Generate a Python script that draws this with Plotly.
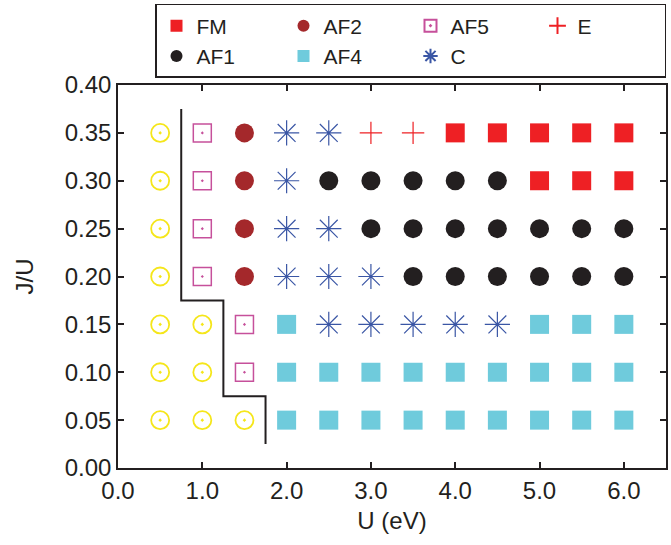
import plotly.graph_objects as go

# ---- data ----
fm_u = [4.0, 4.5, 5.0, 5.5, 6.0, 5.0, 5.5, 6.0]
fm_j = [0.35, 0.35, 0.35, 0.35, 0.35, 0.30, 0.30, 0.30]

af1_u = [2.5, 3.0, 3.5, 4.0, 4.5,
         3.0, 3.5, 4.0, 4.5, 5.0, 5.5, 6.0,
         3.5, 4.0, 4.5, 5.0, 5.5, 6.0]
af1_j = [0.30] * 5 + [0.25] * 7 + [0.20] * 6

af2_u = [1.5, 1.5, 1.5, 1.5]
af2_j = [0.20, 0.25, 0.30, 0.35]

af4_u = [2.0, 5.0, 5.5, 6.0,
         2.0, 2.5, 3.0, 3.5, 4.0, 4.5, 5.0, 5.5, 6.0,
         2.0, 2.5, 3.0, 3.5, 4.0, 4.5, 5.0, 5.5, 6.0]
af4_j = [0.15] * 4 + [0.10] * 9 + [0.05] * 9

af5_u = [1.0, 1.0, 1.0, 1.0, 1.5, 1.5]
af5_j = [0.20, 0.25, 0.30, 0.35, 0.10, 0.15]

c_u = [2.0, 2.5, 2.0, 2.0, 2.5, 2.0, 2.5, 3.0, 2.5, 3.0, 3.5, 4.0, 4.5]
c_j = [0.35, 0.35, 0.30, 0.25, 0.25, 0.20, 0.20, 0.20, 0.15, 0.15, 0.15, 0.15, 0.15]

e_u = [3.0, 3.5]
e_j = [0.35, 0.35]

nm_u = [0.5] * 7 + [1.0, 1.0, 1.0, 1.5]
nm_j = [0.05, 0.10, 0.15, 0.20, 0.25, 0.30, 0.35, 0.05, 0.10, 0.15, 0.05]

stair_u = [0.75, 0.75, 1.25, 1.25, 1.75, 1.75]
stair_j = [0.375, 0.175, 0.175, 0.075, 0.075, 0.025]

x_ticks = [0, 1, 2, 3, 4, 5, 6]
x_labels = ["0.0", "1.0", "2.0", "3.0", "4.0", "5.0", "6.0"]
y_ticks = [0.0, 0.05, 0.10, 0.15, 0.20, 0.25, 0.30, 0.35, 0.40]
y_labels = ["0.00", "0.05", "0.10", "0.15", "0.20", "0.25", "0.30", "0.35", "0.40"]

INK = "#231f20"
FONT = "Liberation Sans, Arial, sans-serif"
FS = 24

fig = go.Figure()

fig.add_trace(go.Scatter(x=stair_u, y=stair_j, mode="lines",
                         line=dict(color=INK, width=2), showlegend=False,
                         hoverinfo="skip"))

fig.add_trace(go.Scatter(x=nm_u, y=nm_j, mode="markers", showlegend=False,
                         marker=dict(symbol="circle-open-dot", size=18,
                                     color="#f5e61a", line=dict(width=1.8, color="#f5e61a"))))

fig.add_trace(go.Scatter(x=fm_u, y=fm_j, mode="markers", name="FM",
                         marker=dict(symbol="square", size=19, color="#ee2024")))
fig.add_trace(go.Scatter(x=af2_u, y=af2_j, mode="markers", name="AF2",
                         marker=dict(symbol="circle", size=19, color="#a4282b")))
fig.add_trace(go.Scatter(x=af5_u, y=af5_j, mode="markers", name="AF5",
                         marker=dict(symbol="square-open-dot", size=18, color="#c6509b",
                                     line=dict(width=1.5, color="#c6509b"))))
fig.add_trace(go.Scatter(x=e_u, y=e_j, mode="markers", name="E",
                         marker=dict(symbol="cross-thin-open", size=16, color="#ee2024",
                                     line=dict(width=1.2, color="#ee2024"))))
fig.add_trace(go.Scatter(x=af1_u, y=af1_j, mode="markers", name="AF1",
                         marker=dict(symbol="circle", size=19, color=INK)))
fig.add_trace(go.Scatter(x=af4_u, y=af4_j, mode="markers", name="AF4",
                         marker=dict(symbol="square", size=19, color="#6fcbdc")))
fig.add_trace(go.Scatter(x=c_u, y=c_j, mode="markers", name="C",
                         marker=dict(symbol="asterisk-open", size=21, color="#3a56a5",
                                     line=dict(width=1.2, color="#3a56a5"))))

axis_common = dict(showline=True, mirror="ticks", linecolor=INK, linewidth=1.5,
                   ticks="inside", ticklen=6, tickwidth=1.5, tickcolor=INK,
                   showgrid=False, zeroline=False,
                   tickfont=dict(family=FONT, size=FS, color=INK))

fig.update_layout(
    width=671, height=545,
    margin=dict(l=118, r=5, t=85, b=77, autoexpand=False),
    paper_bgcolor="white", plot_bgcolor="white",
    font=dict(family=FONT, size=FS, color=INK),
    xaxis=dict(range=[0, 6.5], tickvals=x_ticks, ticktext=x_labels,
               title=dict(text="U (eV)", font=dict(family=FONT, size=FS, color=INK), standoff=10),
               **axis_common),
    yaxis=dict(range=[0, 0.4], tickvals=y_ticks, ticktext=y_labels,
               title=dict(text="J/U", font=dict(family=FONT, size=FS, color=INK), standoff=24),
               **axis_common),
    legend=dict(orientation="h", x=1.0, xanchor="right", y=1.2115, yanchor="top",
                bgcolor="white", bordercolor=INK, borderwidth=1.5,
                entrywidth=82, entrywidthmode="pixels",
                font=dict(family=FONT, size=21, color=INK),
                tracegroupgap=0, itemsizing="constant"),
    showlegend=True,
)

fig.write_html("out.html", config={"displayModeBar": False},
               post_script="document.body.style.margin='0px';document.body.style.overflow='hidden';")
